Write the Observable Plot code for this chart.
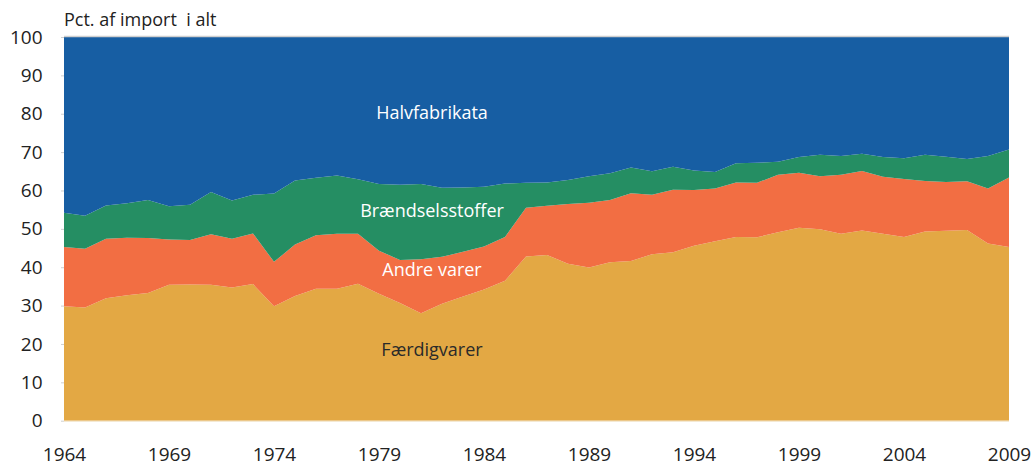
<!DOCTYPE html>
<html>
<head>
<meta charset="utf-8">
<script src="https://cdn.jsdelivr.net/npm/d3@7"></script>
<script src="https://cdn.jsdelivr.net/npm/@observablehq/plot@0.6"></script>
<style>
  body { margin: 0; background: #fff; font-family: "Open Sans", sans-serif; }
  #title { height: 20px; position: relative; }
  #title span { position: absolute; left: 64px; top: 10px; font-size: 18px; line-height: 1; color: #222; white-space: pre; }
  #chart svg { display: block; overflow: visible; }
</style>
</head>
<body>
<div id="title"><span>Pct. af import  i alt</span></div>
<div id="chart"></div>
<script>
const years = [1964,1965,1966,1967,1968,1969,1970,1971,1972,1973,1974,1975,1976,1977,1978,1979,1980,1981,1982,1983,1984,1985,1986,1987,1988,1989,1990,1991,1992,1993,1994,1995,1996,1997,1998,1999,2000,2001,2002,2003,2004,2005,2006,2007,2008,2009];

const faerdigvarer = [29.8,29.5,31.9,32.7,33.3,35.4,35.5,35.4,34.7,35.6,29.8,32.5,34.4,34.4,35.7,33.1,30.7,28.0,30.5,32.4,34.2,36.5,42.8,43.2,40.9,39.9,41.3,41.6,43.4,43.9,45.6,46.8,47.9,47.8,49.1,50.3,49.9,48.7,49.6,48.7,47.9,49.3,49.5,49.7,46.2,45.3];
const andreVarer = [15.5,15.3,15.5,15.0,14.3,11.8,11.6,13.2,12.7,13.2,11.6,13.4,13.9,14.3,13.0,11.2,11.2,14.1,12.2,11.6,11.2,11.4,12.7,12.8,15.6,16.9,16.2,17.7,15.5,16.3,14.5,13.7,14.2,14.2,15.0,14.3,13.8,15.4,15.5,14.9,15.1,13.2,12.7,12.7,14.3,18.1];
const braendselsstoffer = [8.9,8.6,8.7,9.0,9.9,8.7,9.2,11.0,10.0,10.1,17.8,16.7,15.0,15.2,14.2,17.4,19.6,19.6,18.0,16.8,15.6,13.9,6.5,6.1,6.2,6.9,7.0,6.7,6.1,6.0,5.1,4.3,5.0,5.2,3.4,4.1,5.6,4.9,4.5,5.1,5.4,6.8,6.6,5.8,8.5,7.3];
const halvfabrikata = [45.8,46.6,43.9,43.3,42.5,44.1,43.7,40.4,42.6,41.1,40.8,37.4,36.7,36.1,37.1,38.3,38.5,38.3,39.3,39.2,39.0,38.2,38.0,37.9,37.3,36.3,35.5,34.0,35.0,33.8,34.8,35.2,32.9,32.8,32.5,31.3,30.7,31.0,30.4,31.3,31.6,30.7,31.2,31.8,31.0,29.3];

const seriesNames = ["Færdigvarer", "Andre varer", "Brændselsstoffer", "Halvfabrikata"];
const seriesValues = [faerdigvarer, andreVarer, braendselsstoffer, halvfabrikata];
const seriesColors = ["#E3A844", "#F26E43", "#258E63", "#175EA3"];
const xTicks = [1964,1969,1974,1979,1984,1989,1994,1999,2004,2009];
const yTicks = [0,10,20,30,40,50,60,70,80,90,100];

const rows = seriesNames.flatMap((s, si) => years.map((yr, i) => ({year: yr, series: s, value: seriesValues[si][i]})));

const labelYear = 1981.5;
const labelValues = [18.5, 39.3, 54.8, 80.3];
const labelFills = ["#2a2a2a", "#ffffff", "#ffffff", "#ffffff"];

const font = "'Open Sans', sans-serif";

const chart = Plot.plot({
  width: 1031,
  height: 446,
  marginLeft: 64,
  marginRight: 22,
  marginTop: 17,
  marginBottom: 45.3,
  style: { fontFamily: font, fontSize: "19px", color: "#222", background: "#fff" },
  x: { domain: [1964, 2009] },
  y: { domain: [0, 100] },
  color: { domain: seriesNames, range: seriesColors },
  marks: [
    Plot.areaY(rows, { x: "year", y: "value", z: "series", fill: "series", order: seriesNames }),
    Plot.ruleY([100], { stroke: "#cfcfcf", strokeWidth: 1.5, dy: -1 }),
    Plot.ruleY([0], { stroke: "#f0e0c0", strokeWidth: 1 }),
    Plot.axisY({ ticks: yTicks, tickSize: 3, stroke: "#cfcfcf", label: null, text: null }),
    Plot.axisY({ ticks: yTicks, tickSize: 0, tickPadding: 22, label: null, fill: "#222" }),
    Plot.axisX({ ticks: xTicks, tickSize: 0, tickPadding: 26, label: null, tickFormat: d => String(d), fill: "#222" }),
    Plot.text(seriesNames, {
      x: () => labelYear,
      y: (d, i) => labelValues[i],
      text: d => d,
      fill: (d, i) => labelFills[i],
      fontSize: 18,
      textAnchor: "middle"
    })
  ]
});
document.getElementById("chart").appendChild(chart);
</script>
</body>
</html>
